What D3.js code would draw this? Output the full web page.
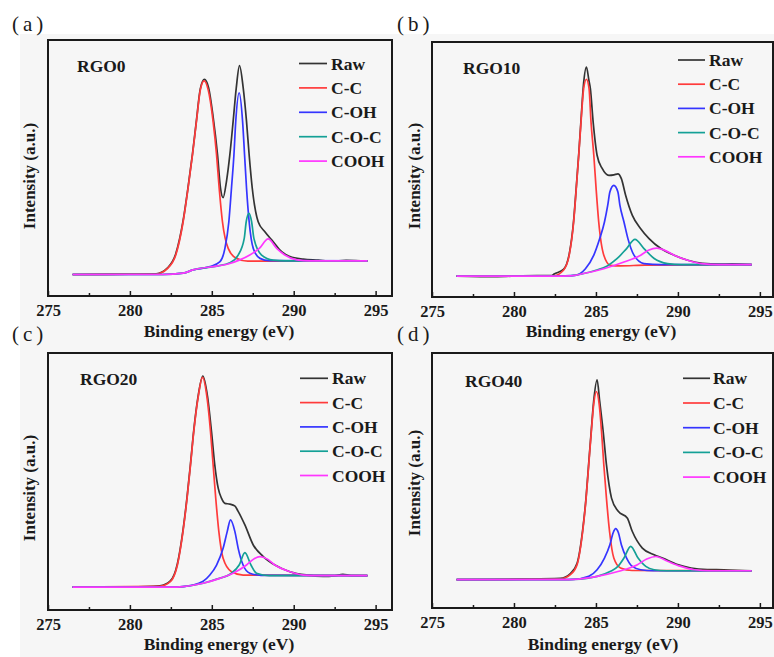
<!DOCTYPE html>
<html><head><meta charset="utf-8">
<script src="https://cdn.jsdelivr.net/npm/d3@7"></script>
<style>body{margin:0;background:#fff} svg{display:block}</style>
</head><body>
<svg id="chart" width="774" height="657"></svg>
<script>
// ---------- DATA ----------
const energyTicks = [275, 280, 285, 290, 295];
const minorTicks = [277.5, 282.5, 287.5, 292.5];
const seriesNames = ["Raw", "C-C", "C-OH", "C-O-C", "COOH"];
const panelLetters = ["(a)", "(b)", "(c)", "(d)"];
const sampleNames = ["RGO0", "RGO10", "RGO20", "RGO40"];
const xTitle = "Binding energy (eV)";
const yTitle = "Intensity (a.u.)";

// RGO0  [binding energy eV, intensity a.u.]
const rgo0_raw = [[276.5,8.4],[280,8.5],[281.6,8.7],[282.3,11.0],[282.8,16.5],[283.25,29.5],[283.55,42.5],[283.82,55.5],[284.06,68.5],[284.3,81],[284.55,84.6],[284.8,81.5],[285.08,70],[285.35,55.1],[285.53,42.1],[285.69,38.4],[285.9,45],[286.1,55.1],[286.3,68.1],[286.49,81.1],[286.69,90.0],[286.92,81.1],[287.12,68.1],[287.28,55.1],[287.47,42.1],[287.83,29.0],[288.24,25.1],[288.75,21.2],[289.26,17.3],[289.77,15.4],[290.58,14.4],[291.5,14.0],[292.3,13.6],[293.2,13.9],[294.5,13.6]];
const rgo0_cc = [[276.5,8.4],[281.6,8.6],[282.3,10.8],[282.8,16.0],[283.25,29.0],[283.55,42.1],[283.82,55.1],[284.06,68.1],[284.3,80.5],[284.53,84.0],[284.78,80.5],[285.08,68.1],[285.29,55.1],[285.45,42.1],[285.65,29.0],[286.0,18.6],[286.5,14.7],[287.2,13.6],[294.5,13.7]];
const rgo0_coh = [[276.5,8.4],[282.0,8.4],[283.25,8.9],[283.85,10.2],[284.9,11.5],[285.5,13.4],[285.8,18.6],[286.04,29.0],[286.2,42.1],[286.35,55.1],[286.46,68.1],[286.67,79.4],[286.88,68.1],[287.0,55.1],[287.12,42.1],[287.28,29.0],[287.53,18.6],[287.94,14.7],[288.5,13.8],[294.5,13.7]];
const rgo0_coc = [[276.5,8.4],[282.0,8.4],[283.25,8.9],[283.85,10.2],[285.3,11.7],[286.1,13.0],[286.61,16.0],[286.98,22.5],[287.1,29.0],[287.27,32.3],[287.43,29.0],[287.57,22.5],[288.04,16.0],[288.75,14.0],[289.5,13.7],[294.5,13.7]];
const rgo0_cooh = [[276.5,8.4],[282.0,8.4],[283.25,8.9],[283.85,10.2],[285.3,11.7],[286.0,12.5],[286.71,14.1],[287.32,16.0],[287.9,18.6],[288.44,22.3],[288.96,18.6],[289.46,16.0],[290.18,14.1],[291.0,13.7],[294.5,13.7]];

// RGO10
const rgo10_raw = [[276.5,8.2],[279,8.0],[280.5,8.3],[282.3,8.4],[282.45,9.0],[283.02,10.8],[283.37,16.8],[283.64,30],[283.8,43],[283.95,56],[284.09,69.5],[284.25,84],[284.42,90.2],[284.57,85],[284.66,81.7],[284.83,68.6],[285.07,55.6],[285.38,50.4],[285.79,47.7],[286.1,47.9],[286.34,48.3],[286.55,46.4],[286.81,39.9],[287.22,32.0],[287.73,26.8],[288.24,22.9],[288.96,19.0],[289.77,16.4],[290.6,14.4],[291.5,13.2],[292.5,12.9],[293.3,13.0],[294.5,12.7]];
const rgo10_cc = [[276.5,8.2],[282.4,8.3],[283.02,10.5],[283.37,16.4],[283.64,29.4],[283.8,42.5],[283.95,55.6],[284.09,68.6],[284.25,81.7],[284.42,85.4],[284.58,81.7],[284.7,68.6],[284.87,55.6],[285.01,42.5],[285.17,29.4],[285.48,16.4],[285.89,12.4],[286.5,12.2],[288,12.5],[294.5,12.7]];
const rgo10_coh = [[276.5,8.2],[282.5,8.2],[283.74,8.5],[284.36,11.1],[284.87,16.4],[285.23,22.9],[285.52,29.4],[285.72,36.0],[285.85,41.2],[286.09,43.8],[286.34,41.2],[286.46,36.0],[286.71,29.4],[286.95,22.9],[287.32,16.4],[287.93,13.1],[289,12.7],[294.5,12.7]];
const rgo10_coc = [[276.5,8.2],[282.5,8.2],[283.43,8.3],[284.25,9.2],[285.0,10.5],[285.69,12.2],[286.3,15.1],[286.87,19.0],[287.38,22.6],[287.93,19.0],[288.55,15.1],[289.37,13.1],[290.2,12.7],[294.5,12.7]];
const rgo10_cooh = [[276.5,8.2],[282.5,8.2],[283.43,8.3],[284.25,9.2],[285.48,11.1],[286.71,13.7],[287.73,16.4],[288.2,18.3],[288.71,19.2],[289.2,18.3],[289.77,16.4],[290.6,14.4],[291.41,13.1],[292.5,12.7],[294.5,12.7]];

// RGO20
const rgo20_raw = [[276.5,8.9],[280,9.0],[281.82,9.4],[282.47,11.3],[282.9,18],[283.24,31],[283.49,44],[283.7,57],[283.9,70],[284.16,83],[284.45,91],[284.74,83],[284.98,69.5],[285.18,56.5],[285.39,47.4],[285.59,43.5],[285.8,41.5],[286.1,41.2],[286.4,40.5],[286.6,38.5],[287.02,33.1],[287.53,25.3],[288.14,20.8],[288.85,17.5],[289.77,14.9],[290.8,13.6],[291.8,13.1],[292.5,13.3],[293.0,13.9],[293.5,13.4],[294.5,13.4]];
const rgo20_cc = [[276.5,8.9],[281.82,9.2],[282.47,11.0],[282.9,17.5],[283.24,30.5],[283.49,43.5],[283.7,56.5],[283.9,69.5],[284.16,82.5],[284.43,90.5],[284.71,82.5],[284.92,69.5],[285.08,56.5],[285.24,43.5],[285.43,30.5],[285.69,20.1],[286.2,14.9],[286.91,13.6],[294.5,13.4]];
const rgo20_coh = [[276.5,8.9],[282.5,8.9],[283.24,9.1],[284.47,11.2],[284.88,13.6],[285.29,17.5],[285.69,24.0],[285.94,30.5],[286.14,35.1],[286.41,30.5],[286.61,24.0],[286.91,17.5],[287.32,14.3],[288.0,13.5],[294.5,13.4]];
const rgo20_coc = [[276.5,8.9],[282.5,8.9],[283.24,9.1],[284.47,10.4],[285.3,12.0],[286.2,14.3],[286.67,17.5],[287.02,22.3],[287.39,17.5],[287.73,14.3],[288.5,13.4],[294.5,13.4]];
const rgo20_cooh = [[276.5,8.9],[282.5,8.9],[283.24,9.1],[284.47,10.4],[285.49,12.3],[286.3,14.3],[287.12,17.5],[287.55,19.8],[287.94,20.8],[288.4,19.8],[288.85,17.5],[289.77,14.9],[290.58,13.6],[291.5,13.4],[294.5,13.4]];

// RGO40
const rgo40_raw = [[276.5,11.1],[280.5,11.3],[282.82,11.6],[283.44,13.5],[283.85,17.5],[284.19,30.5],[284.4,43.5],[284.56,56.8],[284.72,70],[284.86,81],[285.07,89.5],[285.23,81],[285.44,69.3],[285.64,56.2],[285.95,43.1],[286.36,37.9],[286.91,35.3],[287.22,30.0],[287.83,23.5],[288.55,20.9],[289.06,19.6],[289.98,17.0],[290.8,15.7],[291.8,15.1],[292.8,15.0],[294.5,14.6]];
const rgo40_cc = [[276.5,11.1],[282.82,11.4],[283.44,13.1],[283.85,17.0],[284.19,30.0],[284.4,43.1],[284.56,56.2],[284.72,69.3],[284.86,79.7],[285.03,84.9],[285.2,79.7],[285.34,69.3],[285.48,56.2],[285.64,43.1],[285.83,30.0],[286.09,19.6],[286.5,15.7],[287.2,14.7],[294.5,14.6]];
const rgo40_coh = [[276.5,11.1],[283.0,11.1],[283.64,11.2],[284.56,12.4],[285.07,15.0],[285.52,19.6],[285.85,24.8],[286.05,29.5],[286.2,31.1],[286.37,29.5],[286.55,24.8],[286.87,19.6],[287.22,16.3],[287.73,15.0],[288.5,14.6],[294.5,14.6]];
const rgo40_coc = [[276.5,11.1],[283.0,11.1],[283.64,11.2],[285.07,12.4],[285.89,14.4],[286.34,16.3],[286.71,19.6],[287.12,24.2],[287.57,19.6],[288.04,16.3],[288.55,15.0],[289.3,14.6],[294.5,14.6]];
const rgo40_cooh = [[276.5,11.1],[283.0,11.1],[283.64,11.2],[285.07,12.4],[286.4,14.4],[287.53,17.0],[288.1,19.2],[288.65,20.2],[289.37,18.3],[290.18,16.3],[291.0,15.0],[292,14.6],[294.5,14.6]];

const panelSeries = [
  [rgo0_raw, rgo0_cc, rgo0_coh, rgo0_coc, rgo0_cooh],
  [rgo10_raw, rgo10_cc, rgo10_coh, rgo10_coc, rgo10_cooh],
  [rgo20_raw, rgo20_cc, rgo20_coh, rgo20_coc, rgo20_cooh],
  [rgo40_raw, rgo40_cc, rgo40_coh, rgo40_coc, rgo40_cooh]
];

// ---------- STYLE / LAYOUT ----------
const colors = ["#333333", "#ff3b3b", "#3535ff", "#14a096", "#ff36ff"];
const serif = "'Liberation Serif','Times New Roman',serif";
const layouts = [
  {x0:48, x1:392, y0:40, y1:296, xmax:296.0, letter:[12,31], sample:[77,72], leg:{l1:299,l2:327,t:331,y:63.5,dy:24.4}, yt:[35,176], xt:[219,337]},
  {x0:432, x1:773, y0:42, y1:297, xmax:295.8, letter:[397,31], sample:[463,74], leg:{l1:678,l2:705,t:709,y:60,dy:24.2}, yt:[420,176], xt:[601,337]},
  {x0:48, x1:392, y0:353, y1:610, xmax:296.0, letter:[12,341], sample:[80,385], leg:{l1:300,l2:328,t:332,y:378.3,dy:24.3}, yt:[35,488], xt:[219,650]},
  {x0:432, x1:773, y0:353, y1:608, xmax:295.8, letter:[397,341], sample:[465,387], leg:{l1:683,l2:710,t:713,y:378.3,dy:24.7}, yt:[420,483], xt:[603,650]}
];

const svg = d3.select("#chart");
svg.append("rect").attr("x",20).attr("y",34).attr("width",754).attr("height",623).attr("fill","#f6f6f6");

panelSeries.forEach((series, i) => {
  const L = layouts[i];
  const x = d3.scaleLinear().domain([275, L.xmax]).range([L.x0, L.x1]);
  const y = d3.scaleLinear().domain([0, 100]).range([L.y1, L.y0]);
  const g = svg.append("g");

  const line = d3.line().x(d => x(d[0])).y(d => y(d[1])).curve(d3.curveMonotoneX);
  series.forEach((s, k) => {
    g.append("path").datum(s).attr("d", line)
      .attr("fill", "none").attr("stroke", colors[k]).attr("stroke-width", 1.7)
      .attr("stroke-linejoin", "round");
  });

  // axes
  const ax = g.append("g").attr("transform", `translate(0,${L.y1})`)
    .call(d3.axisBottom(x).tickValues(energyTicks).tickSize(-5).tickPadding(8).tickFormat(d3.format("d")));
  ax.select(".domain").remove();
  ax.attr("font-family", serif).attr("font-size", 16.5).attr("font-weight", "bold").attr("color", "#1a1a1a");
  ax.selectAll("line").attr("stroke-width", 1.5);
  const mx = g.append("g").attr("transform", `translate(0,${L.y1})`)
    .call(d3.axisBottom(x).tickValues(minorTicks).tickSize(-3).tickFormat(""));
  mx.select(".domain").remove();
  mx.attr("color", "#1a1a1a");
  mx.selectAll("line").attr("stroke-width", 1.5);

  // frame
  g.append("rect").attr("x", L.x0).attr("y", L.y0).attr("width", L.x1 - L.x0).attr("height", L.y1 - L.y0)
    .attr("fill", "none").attr("stroke", "#1a1a1a").attr("stroke-width", 2);

  // legend
  seriesNames.forEach((n, k) => {
    const yy = L.leg.y + k * L.leg.dy;
    g.append("line").attr("x1", L.leg.l1).attr("x2", L.leg.l2).attr("y1", yy).attr("y2", yy)
      .attr("stroke", colors[k]).attr("stroke-width", 1.7);
    g.append("text").attr("x", L.leg.t).attr("y", yy + 6).text(n)
      .attr("font-family", serif).attr("font-size", 17.5).attr("font-weight", "bold").attr("fill", "#1a1a1a");
  });

  // sample name
  g.append("text").attr("x", L.sample[0]).attr("y", L.sample[1]).text(sampleNames[i])
    .attr("font-family", serif).attr("font-size", 17.5).attr("font-weight", "bold").attr("fill", "#1a1a1a");

  // panel letter
  g.append("text").attr("x", L.letter[0]).attr("y", L.letter[1]).text(panelLetters[i])
    .attr("font-family", serif).attr("font-size", 21).attr("letter-spacing", 4).attr("fill", "#1a1a1a");

  // axis titles
  g.append("text").attr("x", L.xt[0]).attr("y", L.xt[1]).attr("text-anchor", "middle").text(xTitle)
    .attr("font-family", serif).attr("font-size", 17.5).attr("font-weight", "bold").attr("fill", "#1a1a1a");
  g.append("text").attr("transform", `translate(${L.yt[0]},${L.yt[1]}) rotate(-90)`).attr("text-anchor", "middle").text(yTitle)
    .attr("font-family", serif).attr("font-size", 17).attr("font-weight", "bold").attr("fill", "#1a1a1a");
});
</script>
</body></html>
